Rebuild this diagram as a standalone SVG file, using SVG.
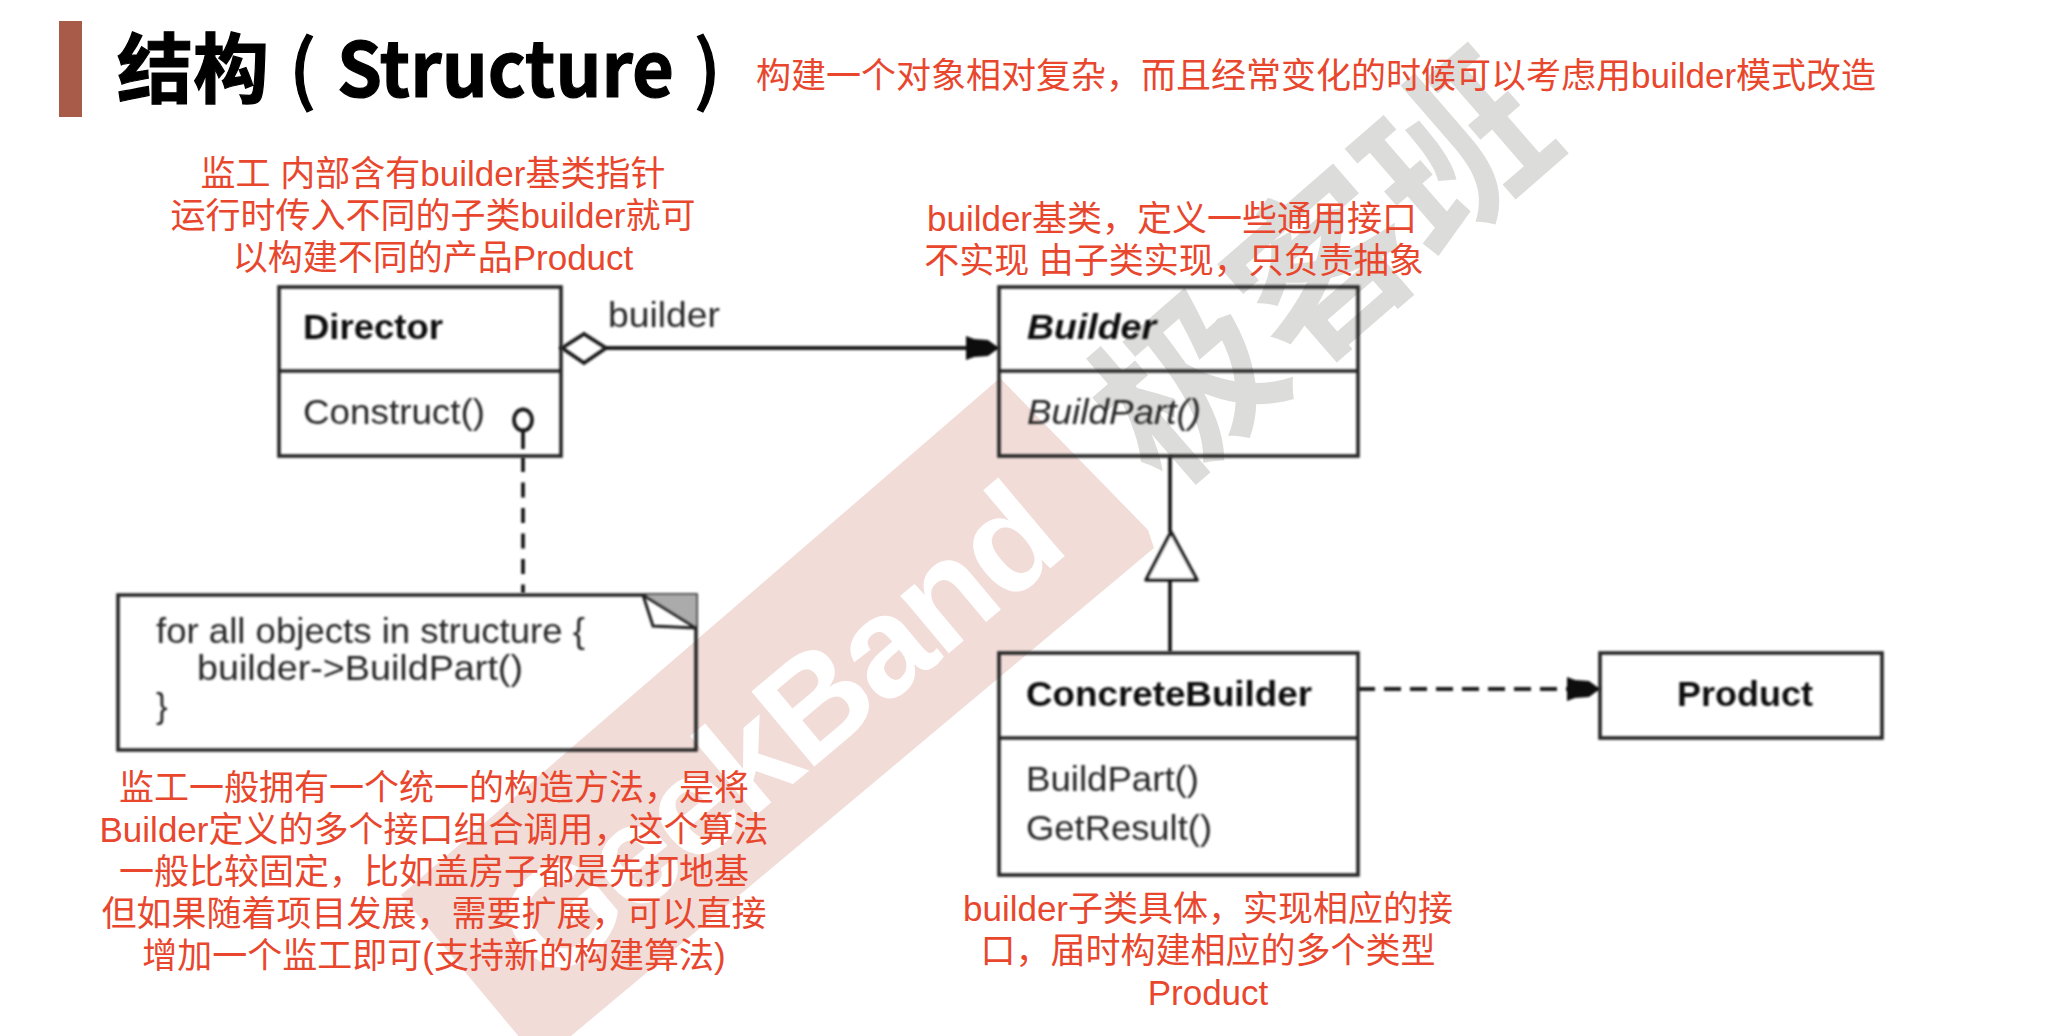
<svg xmlns="http://www.w3.org/2000/svg" width="2062" height="1036" viewBox="0 0 2062 1036">
<style>
text{font-family:"Liberation Sans","Noto Sans CJK SC",sans-serif}
.red{font-size:35px;fill:#e8472e;text-anchor:middle}
.uml{font-size:35px;fill:#262626}
.b{font-weight:700;fill:#111}
.box{fill:none;stroke:#262626;stroke-width:3.6}
.ln{fill:none;stroke:#1a1a1a;stroke-width:3.8}
</style>
<defs>
<filter id="soft" x="-5%" y="-5%" width="110%" height="110%"><feGaussianBlur stdDeviation="0.95"/></filter>
<marker id="head" markerUnits="userSpaceOnUse" markerWidth="36" markerHeight="28" refX="33" refY="14" orient="auto" overflow="visible">
<path d="M0,2 L8,5 L22,6 L33,14 L22,22 L8,23 L0,26 Z" fill="#0c0c0c"/>
</marker>
</defs>
<rect width="2062" height="1036" fill="#fff"/>
<g id="watermark">
<polygon points="1000,378 1148,530 1154,548 540,1062 401,895" fill="#f1dcd8"/>
<text transform="translate(550,988) rotate(-40)" font-size="142" font-weight="700" letter-spacing="-3" fill="#fff">GeekBand</text>
<text transform="translate(1322,268) rotate(-41)" x="0" y="65" font-size="178" font-weight="700" fill="#dcdcdb" text-anchor="middle" style="font-family:'Noto Sans CJK SC',sans-serif">极客班</text>
</g>
<g id="title">
<rect x="59" y="21" width="23" height="96" fill="#a95b4a"/>
<text y="97" font-size="76" font-weight="700" fill="#000" stroke="#000" stroke-width="1.2" style="font-family:'Noto Sans CJK SC',sans-serif"><tspan x="117">结构</tspan><tspan x="289" font-weight="500">(</tspan><tspan x="337" textLength="337" lengthAdjust="spacingAndGlyphs">Structure</tspan><tspan x="694" font-weight="500">)</tspan></text>
<text x="756" y="88" font-size="35" fill="#e8472e">构建一个对象相对复杂，而且经常变化的时候可以考虑用builder模式改造</text>
</g>
<g id="connectors" filter="url(#soft)">
<line class="ln" x1="606" y1="348" x2="999" y2="348" stroke-width="5" marker-end="url(#head)"/>
<polygon class="ln" points="562,348 584,334 606,348 584,363"/>
<text class="uml" x="608" y="327" textLength="112" lengthAdjust="spacingAndGlyphs">builder</text>
<line class="ln" x1="523" y1="431" x2="523" y2="449"/>
<line class="ln" x1="523" y1="457" x2="523" y2="593" stroke-dasharray="15 10.5"/>
<ellipse class="ln" cx="523" cy="420" rx="9" ry="10.5"/>
<line class="ln" x1="1170" y1="456" x2="1170" y2="532"/>
<line class="ln" x1="1170" y1="580" x2="1170" y2="652"/>
<polygon points="1171,532 1197,580 1146,580" fill="#fff" stroke="#1a1a1a" stroke-width="3.6" stroke-linejoin="round"/>
<line class="ln" x1="1358" y1="689" x2="1600" y2="689" stroke-width="5.2" stroke-dasharray="17 9" marker-end="url(#head)"/>
</g>
<g id="director" filter="url(#soft)">
<rect class="box" x="279" y="287" width="282" height="169"/>
<line class="box" x1="279" y1="371" x2="561" y2="371"/>
<text class="uml b" x="303" y="339" textLength="140" lengthAdjust="spacingAndGlyphs">Director</text>
<text class="uml" x="303" y="424" textLength="182" lengthAdjust="spacingAndGlyphs">Construct()</text>
</g>
<g id="builder" filter="url(#soft)">
<rect class="box" x="999" y="287" width="359" height="169"/>
<line class="box" x1="999" y1="371" x2="1358" y2="371"/>
<text class="uml b" x="1027" y="339" font-style="italic" textLength="129" lengthAdjust="spacingAndGlyphs">Builder</text>
<text class="uml" x="1027" y="424" font-style="italic" textLength="174" lengthAdjust="spacingAndGlyphs">BuildPart()</text>
</g>
<g id="concrete-builder" filter="url(#soft)">
<rect class="box" x="999" y="653" width="359" height="222"/>
<line class="box" x1="999" y1="738" x2="1358" y2="738"/>
<text class="uml b" x="1026" y="706" textLength="286" lengthAdjust="spacingAndGlyphs">ConcreteBuilder</text>
<text class="uml" x="1026" y="791" textLength="173" lengthAdjust="spacingAndGlyphs">BuildPart()</text>
<text class="uml" x="1026" y="840" textLength="186" lengthAdjust="spacingAndGlyphs">GetResult()</text>
</g>
<g id="product" filter="url(#soft)">
<rect class="box" x="1600" y="653" width="282" height="85"/>
<text class="uml b" x="1677" y="706" textLength="136" lengthAdjust="spacingAndGlyphs">Product</text>
</g>
<g id="note" filter="url(#soft)">
<path class="box" d="M118,595 H641 L696,595 V750 H118 Z"/>
<polygon points="643,595 696,595 696,628" fill="#ababab"/>
<path d="M643,595 L696,628 M643,595 L653,626 L696,628" fill="none" stroke="#222" stroke-width="3"/>
<text class="uml" x="156" y="643" textLength="429" lengthAdjust="spacingAndGlyphs">for all objects in structure {</text>
<text class="uml" x="197" y="680" textLength="326" lengthAdjust="spacingAndGlyphs">builder-&gt;BuildPart()</text>
<text class="uml" x="156" y="718">}</text>
</g>
<g id="annotations">
<text class="red"><tspan x="433" y="186">监工 内部含有builder基类指针</tspan><tspan x="433" y="228">运行时传入不同的子类builder就可</tspan><tspan x="433" y="270">以构建不同的产品Product</tspan></text>
<text class="red"><tspan x="1172" y="231">builder基类，定义一些通用接口</tspan><tspan x="1174" y="273">不实现 由子类实现，只负责抽象</tspan></text>
<text class="red"><tspan x="434" y="800">监工一般拥有一个统一的构造方法，是将</tspan><tspan x="434" y="842">Builder定义的多个接口组合调用，这个算法</tspan><tspan x="434" y="884">一般比较固定，比如盖房子都是先打地基</tspan><tspan x="434" y="926">但如果随着项目发展，需要扩展，可以直接</tspan><tspan x="434" y="968">增加一个监工即可(支持新的构建算法)</tspan></text>
<text class="red"><tspan x="1208" y="921">builder子类具体，实现相应的接</tspan><tspan x="1208" y="963">口，届时构建相应的多个类型</tspan><tspan x="1208" y="1005">Product</tspan></text>
</g>
</svg>
